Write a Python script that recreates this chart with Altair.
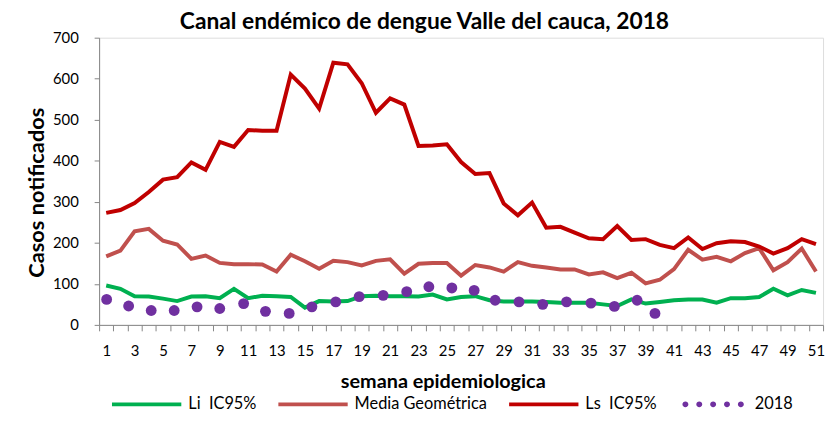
import altair as alt
import pandas as pd

semanas = list(range(1, 52))
li_ic95 = [96, 88, 70, 69, 64, 58, 69, 70, 65, 88, 65, 71, 70, 68, 42, 58, 57, 58, 70, 71,
           70, 70, 69, 74, 62, 68, 70, 60, 57, 57, 57, 56, 54, 54, 54, 50, 46, 62, 52, 56,
           60, 62, 62, 54, 65, 65, 68, 88, 72, 85, 78]
media_geo = [167, 181, 228, 234, 205, 196, 161, 169, 151, 148, 148, 147, 130, 171, 155, 137, 156, 153, 145, 156,
             160, 125, 149, 151, 151, 120, 146, 140, 130, 153, 144, 140, 135, 135, 123, 128, 114, 127, 101, 110,
             136, 183, 159, 166, 155, 175, 187, 133, 153, 186, 130]
ls_ic95 = [273, 280, 297, 324, 354, 360, 396, 378, 446, 434, 475, 473, 473, 610, 576, 527, 639, 635, 589, 517,
           552, 537, 436, 437, 440, 397, 368, 370, 296, 267, 298, 237, 239, 225, 211, 209, 241, 207, 209, 195,
           187, 213, 185, 199, 204, 202, 191, 174, 187, 209, 197]

pos_2018 = [1.03, 2.58, 4.17, 5.79, 7.40, 9.00, 10.68, 12.22, 13.89, 15.49, 17.17, 18.82, 20.51,
            22.17, 23.73, 25.35, 26.92, 28.40, 30.08, 31.75, 33.43, 35.15, 36.80, 38.40, 39.66]
casos_2018 = [62, 46, 35, 35, 44, 40, 52, 33, 28, 44, 56, 69, 72, 81, 93, 90, 84, 60, 56, 50,
              56, 53, 45, 60, 28]

series = ["Li\u00a0 IC95%", "Media Geométrica", "Ls\u00a0 IC95%", "2018"]
colores = ["#00B050", "#C0504D", "#C00000", "#7030A0"]

LINE_SYM = "M-1,-0.057L1,-0.057L1,0.057L-1,0.057Z"
DOT_SYM = "".join(
    f"M{c - 0.086:.3f},0a0.086,0.086 0 1,0 0.172,0a0.086,0.086 0 1,0 -0.172,0"
    for c in (-0.8, -0.4, 0.0, 0.4, 0.8)
)
simbolos = [LINE_SYM, LINE_SYM, LINE_SYM, DOT_SYM]

rows = []
for name, vals in zip(series[:3], [li_ic95, media_geo, ls_ic95]):
    for s, v in zip(semanas, vals):
        rows.append({"semana": s, "casos": v, "serie": name})
lines_df = pd.DataFrame(rows)
dots_df = pd.DataFrame({"semana": pos_2018, "casos": casos_2018, "serie": series[3]})
legend_df = pd.DataFrame({"semana": pd.Series([], dtype=float),
                          "casos": pd.Series([], dtype=float),
                          "serie": pd.Series([], dtype=str)})

FONT = "Lato"
GRAY = "#868686"

xscale = alt.Scale(domain=[0.5, 51.5], nice=False, zero=False)
yscale = alt.Scale(domain=[0, 700], nice=False)
cscale = alt.Scale(domain=series, range=colores)

leg = alt.Legend(
    orient="none", legendX=13, legendY=335, direction="horizontal", title=None,
    symbolSize=4900, symbolType=LINE_SYM, labelFontSize=16.5, labelFont=FONT,
    labelColor="#000000", labelOffset=7, columnPadding=22, symbolStrokeWidth=0,
    symbolOpacity=1,
)

lines = alt.Chart(lines_df).mark_line(strokeWidth=4).encode(
    x=alt.X("semana:Q", scale=xscale,
            axis=alt.Axis(values=list(range(1, 52, 2)), ticks=False, grid=False,
                          domainColor=GRAY, labelFontSize=15, labelFont=FONT,
                          labelColor="#000000", labelPadding=19, labelFlush=False,
                          title="semana epidemiologica", titleFont=FONT, titleFontSize=20,
                          titleFontWeight="bold", titleColor="#000000",
                          titleX=347, titleY=57, titleAlign="center", titleBaseline="middle",
                          orient="bottom")),
    y=alt.Y("casos:Q", scale=yscale,
            axis=alt.Axis(values=list(range(0, 701, 100)), grid=False, tickSize=5,
                          tickColor=GRAY, domainColor=GRAY, labelFontSize=15, labelFont=FONT,
                          labelColor="#000000", labelPadding=16,
                          title="Casos notificados", titleFont=FONT, titleFontSize=22,
                          titleFontWeight="bold", titleColor="#000000",
                          titleX=-63, titleY=156, titleAlign="center", titleBaseline="middle",
                          titleAngle=270)),
    color=alt.Color("serie:N", scale=cscale, legend=leg),
    detail="serie:N",
)

dots = alt.Chart(dots_df).mark_circle(size=120, opacity=1).encode(
    x=alt.X("semana:Q", scale=xscale,
            axis=alt.Axis(values=[i + 0.5 for i in range(0, 52)], labels=False, grid=False,
                          domain=False, tickSize=6, tickColor=GRAY, title=None, orient="bottom")),
    y=alt.Y("casos:Q", scale=yscale),
    color=alt.Color("serie:N", scale=cscale, legend=leg),
)

legend_layer = alt.Chart(legend_df).mark_point(filled=True, opacity=1).encode(
    x=alt.X("semana:Q", scale=xscale, axis=None),
    y=alt.Y("casos:Q", scale=yscale),
    color=alt.Color("serie:N", scale=cscale, legend=leg),
    shape=alt.Shape("serie:N", scale=alt.Scale(domain=series, range=simbolos), legend=leg),
)

chart = alt.layer(lines, dots, legend_layer).resolve_axis(x="independent").properties(
    width=731, height=290,
    autosize=alt.AutoSizeParams(type="none"),
    padding={"left": 92, "top": 28, "right": 6, "bottom": 87},
    title=alt.TitleParams("Canal endémico de dengue Valle del cauca, 2018", font=FONT,
                          fontSize=23, fontWeight="bold", color="#000000",
                          anchor="middle", dx=-37, offset=-3),
).configure_view(stroke=None).configure(background="white")

chart.save("out.html", embed_options={"renderer": "svg", "actions": False})
